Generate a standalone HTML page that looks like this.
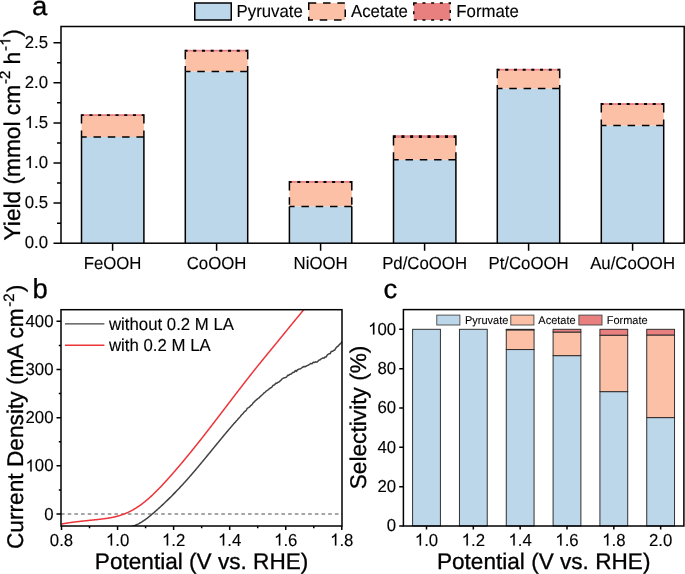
<!DOCTYPE html>
<html><head><meta charset="utf-8"><style>
html,body{margin:0;padding:0;background:#fff;}
svg{display:block;font-family:"Liberation Sans", sans-serif;will-change:transform;text-rendering:geometricPrecision;}
text{white-space:pre;}
</style></head><body>
<svg width="685" height="574" viewBox="0 0 685 574">
<rect width="685" height="574" fill="#fff"/>
<rect x="81.5" y="137.0" width="62.4" height="106.19999999999999" fill="#BDD7EA"/>
<rect x="81.5" y="116.1" width="62.4" height="20.900000000000006" fill="#FBC0A5"/>
<rect x="81.5" y="114.2" width="62.4" height="1.8999999999999915" fill="#E88080"/>
<path d="M81.5 243.2V137.0M143.9 243.2V137.0" stroke="#000" stroke-width="1.5" fill="none"/>
<path d="M81.5 116.1V137.0M143.9 116.1V137.0M143.9 137.0H81.5" stroke="#000" stroke-width="1.5" fill="none" stroke-dasharray="7.5 6.8"/>
<path d="M80.75 114.95H144.65M80.75 115.35H144.65" stroke="#000" stroke-width="1.5" fill="none" stroke-dasharray="3 5.7"/>
<rect x="185.3" y="71.5" width="62.4" height="171.7" fill="#BDD7EA"/>
<rect x="185.3" y="51.7" width="62.4" height="19.799999999999997" fill="#FBC0A5"/>
<rect x="185.3" y="49.8" width="62.4" height="1.9000000000000057" fill="#E88080"/>
<path d="M185.3 243.2V71.5M247.7 243.2V71.5" stroke="#000" stroke-width="1.5" fill="none"/>
<path d="M185.3 51.7V71.5M247.7 51.7V71.5M247.7 71.5H185.3" stroke="#000" stroke-width="1.5" fill="none" stroke-dasharray="7.5 6.8"/>
<path d="M184.55 50.55H248.45M184.55 50.95H248.45" stroke="#000" stroke-width="1.5" fill="none" stroke-dasharray="3 5.7"/>
<rect x="289.40000000000003" y="206.4" width="62.4" height="36.79999999999998" fill="#BDD7EA"/>
<rect x="289.40000000000003" y="182.9" width="62.4" height="23.5" fill="#FBC0A5"/>
<rect x="289.40000000000003" y="180.9" width="62.4" height="2.0" fill="#E88080"/>
<path d="M289.40000000000003 243.2V206.4M351.8 243.2V206.4" stroke="#000" stroke-width="1.5" fill="none"/>
<path d="M289.40000000000003 182.9V206.4M351.8 182.9V206.4M351.8 206.4H289.40000000000003" stroke="#000" stroke-width="1.5" fill="none" stroke-dasharray="7.5 6.8"/>
<path d="M288.65000000000003 181.65H352.55M288.65000000000003 182.15H352.55" stroke="#000" stroke-width="1.5" fill="none" stroke-dasharray="3 5.7"/>
<rect x="393.5" y="159.8" width="62.4" height="83.39999999999998" fill="#BDD7EA"/>
<rect x="393.5" y="137.9" width="62.4" height="21.900000000000006" fill="#FBC0A5"/>
<rect x="393.5" y="135.2" width="62.4" height="2.700000000000017" fill="#E88080"/>
<path d="M393.5 243.2V159.8M455.9 243.2V159.8" stroke="#000" stroke-width="1.5" fill="none"/>
<path d="M393.5 137.9V159.8M455.9 137.9V159.8M455.9 159.8H393.5" stroke="#000" stroke-width="1.5" fill="none" stroke-dasharray="7.5 6.8"/>
<path d="M392.75 135.95H456.65M392.75 137.15H456.65" stroke="#000" stroke-width="1.5" fill="none" stroke-dasharray="3 5.7"/>
<rect x="497.3" y="88.6" width="62.4" height="154.6" fill="#BDD7EA"/>
<rect x="497.3" y="70.7" width="62.4" height="17.89999999999999" fill="#FBC0A5"/>
<rect x="497.3" y="68.8" width="62.4" height="1.9000000000000057" fill="#E88080"/>
<path d="M497.3 243.2V88.6M559.7 243.2V88.6" stroke="#000" stroke-width="1.5" fill="none"/>
<path d="M497.3 70.7V88.6M559.7 70.7V88.6M559.7 88.6H497.3" stroke="#000" stroke-width="1.5" fill="none" stroke-dasharray="7.5 6.8"/>
<path d="M496.55 69.55H560.45M496.55 69.95H560.45" stroke="#000" stroke-width="1.5" fill="none" stroke-dasharray="3 5.7"/>
<rect x="601.3" y="125.6" width="62.4" height="117.6" fill="#BDD7EA"/>
<rect x="601.3" y="105.1" width="62.4" height="20.5" fill="#FBC0A5"/>
<rect x="601.3" y="103.1" width="62.4" height="2.0" fill="#E88080"/>
<path d="M601.3 243.2V125.6M663.7 243.2V125.6" stroke="#000" stroke-width="1.5" fill="none"/>
<path d="M601.3 105.1V125.6M663.7 105.1V125.6M663.7 125.6H601.3" stroke="#000" stroke-width="1.5" fill="none" stroke-dasharray="7.5 6.8"/>
<path d="M600.55 103.85H664.45M600.55 104.35H664.45" stroke="#000" stroke-width="1.5" fill="none" stroke-dasharray="3 5.7"/>
<rect x="61.0" y="26.5" width="623.2" height="216.7" fill="none" stroke="#000" stroke-width="1.5"/>
<path d="M61.0 243.20H53.5M61.0 223.15H57.0M61.0 203.10H53.5M61.0 183.05H57.0M61.0 163.00H53.5M61.0 142.95H57.0M61.0 122.90H53.5M61.0 102.85H57.0M61.0 82.80H53.5M61.0 62.75H57.0M61.0 42.70H53.5M112.6 243.2V250.7M216.6 243.2V250.7M320.6 243.2V250.7M424.6 243.2V250.7M528.6 243.2V250.7M632.6 243.2V250.7" stroke="#000" stroke-width="1.5" fill="none"/>
<g transform="translate(48.00 248.20) scale(1 1.035)"><text x="-23.35" y="0.00" font-size="16.8" stroke="#000" stroke-width="0.12">0.0</text></g>
<g transform="translate(48.00 208.10) scale(1 1.035)"><text x="-23.35" y="0.00" font-size="16.8" stroke="#000" stroke-width="0.12">0.5</text></g>
<g transform="translate(48.00 168.00) scale(1 1.035)"><text x="-23.35" y="0.00" font-size="16.8" stroke="#000" stroke-width="0.12"> .0</text><path transform="translate(-23.35 0.00) scale(0.00820 -0.00820)" d="M763 0L583 0L583 1102C540 1063 483 1023 413 984C343 945 280 915 223 895L223 1061C321 1105 407 1159 481 1221C555 1284 607 1346 638 1409L763 1409Z" stroke="#000" stroke-width="14.6"/></g>
<g transform="translate(48.00 127.90) scale(1 1.035)"><text x="-23.35" y="0.00" font-size="16.8" stroke="#000" stroke-width="0.12"> .5</text><path transform="translate(-23.35 0.00) scale(0.00820 -0.00820)" d="M763 0L583 0L583 1102C540 1063 483 1023 413 984C343 945 280 915 223 895L223 1061C321 1105 407 1159 481 1221C555 1284 607 1346 638 1409L763 1409Z" stroke="#000" stroke-width="14.6"/></g>
<g transform="translate(48.00 87.80) scale(1 1.035)"><text x="-23.35" y="0.00" font-size="16.8" stroke="#000" stroke-width="0.12">2.0</text></g>
<g transform="translate(48.00 47.70) scale(1 1.035)"><text x="-23.35" y="0.00" font-size="16.8" stroke="#000" stroke-width="0.12">2.5</text></g>
<g transform="translate(112.60 268.70) scale(1 1.035)"><text x="-28.94" y="0.00" font-size="16.8" stroke="#000" stroke-width="0.12">FeOOH</text></g>
<g transform="translate(216.60 268.70) scale(1 1.035)"><text x="-29.87" y="0.00" font-size="16.8" stroke="#000" stroke-width="0.12">CoOOH</text></g>
<g transform="translate(320.60 268.70) scale(1 1.035)"><text x="-27.07" y="0.00" font-size="16.8" stroke="#000" stroke-width="0.12">NiOOH</text></g>
<g transform="translate(424.60 268.70) scale(1 1.035)"><text x="-42.48" y="0.00" font-size="16.8" stroke="#000" stroke-width="0.12">Pd/CoOOH</text></g>
<g transform="translate(528.60 268.70) scale(1 1.035)"><text x="-40.14" y="0.00" font-size="16.8" stroke="#000" stroke-width="0.12">Pt/CoOOH</text></g>
<g transform="translate(632.60 268.70) scale(1 1.035)"><text x="-42.48" y="0.00" font-size="16.8" stroke="#000" stroke-width="0.12">Au/CoOOH</text></g>
<g transform="translate(19.80 134.75) rotate(-90)"><text x="-105.68" y="0.00" font-size="22.7" stroke="#000" stroke-width="0.3">Yield (mmol cm</text><text x="50.71" y="-9.50" font-size="15" stroke="#000" stroke-width="0.3">-2</text><text x="64.05" y="0.00" font-size="22.7" stroke="#000" stroke-width="0.3"> h</text><text x="83.88" y="-9.50" font-size="15" stroke="#000" stroke-width="0.3">- </text><path transform="translate(88.88 -9.50) scale(0.00732 -0.00732)" d="M763 0L583 0L583 1102C540 1063 483 1023 413 984C343 945 280 915 223 895L223 1061C321 1105 407 1159 481 1221C555 1284 607 1346 638 1409L763 1409Z" stroke="#000" stroke-width="41.0"/><text x="98.12" y="0.00" font-size="22.7" stroke="#000" stroke-width="0.3">)</text></g>
<g transform="translate(32.00 15.00) scale(1 0.965)"><text x="0.00" y="0.00" font-size="27.5" stroke="#000" stroke-width="0.3">a</text></g>
<rect x="194.75" y="3" width="36.5" height="17" fill="#BDD7EA" stroke="#000" stroke-width="1.5"/>
<g transform="translate(236.60 17.00) scale(1 1.035)"><text x="0.00" y="0.00" font-size="16.8" stroke="#000" stroke-width="0.12">Pyruvate</text></g>
<rect x="308.75" y="3" width="36.5" height="17" fill="#FBC0A5" stroke="#000" stroke-width="1.5" stroke-dasharray="7.5 6.8"/>
<g transform="translate(351.00 17.00) scale(1 1.035)"><text x="0.00" y="0.00" font-size="16.8" stroke="#000" stroke-width="0.12">Acetate</text></g>
<rect x="413.75" y="3" width="36.5" height="17" fill="#E88080" stroke="#000" stroke-width="1.5" stroke-dasharray="3 5.7"/>
<g transform="translate(456.30 17.00) scale(1 1.035)"><text x="0.00" y="0.00" font-size="16.8" stroke="#000" stroke-width="0.12">Formate</text></g>
<path d="M61.0 514H342.0" stroke="#888" stroke-width="1.3" stroke-dasharray="3.6 3.08" fill="none"/>
<clipPath id="cb"><rect x="61.0" y="309.7" width="281.0" height="216.3"/></clipPath>
<g clip-path="url(#cb)">
<polyline points="128.0,527.09 128.5,527.04 129.0,526.99 129.5,526.92 130.0,526.84 130.5,526.74 131.0,526.64 131.5,526.52 132.0,526.40 132.5,526.26 133.0,526.11 133.5,525.95 134.0,525.78 134.5,525.60 135.0,525.41 135.5,525.21 136.0,525.00 136.5,524.78 137.0,524.55 137.5,524.31 138.0,524.06 138.5,523.81 139.0,523.54 139.5,523.27 140.0,522.99 140.5,522.70 141.0,522.40 141.5,522.10 142.0,521.78 142.5,521.46 143.0,521.14 143.5,520.81 144.0,520.47 144.5,520.12 145.0,519.77 145.5,519.41 146.0,519.04 146.5,518.67 147.0,518.30 147.5,517.91 148.0,517.53 148.5,517.14 149.0,516.74 149.5,516.34 150.0,515.93 150.5,515.52 151.0,515.11 151.5,514.69 152.0,514.27 152.5,513.85 153.0,513.42 153.5,512.99 154.0,512.56 154.5,512.12 155.0,511.68 155.5,511.24 156.0,510.80 156.5,510.35 157.0,509.91 157.5,509.46 158.0,509.01 158.5,508.56 159.0,508.10 159.5,507.65 160.0,507.19 160.5,506.73 161.0,506.27 161.5,505.81 162.0,505.34 162.5,504.87 163.0,504.41 163.5,503.94 164.0,503.46 164.5,502.99 165.0,502.51 165.5,502.04 166.0,501.56 166.5,501.08 167.0,500.59 167.5,500.11 168.0,499.62 168.5,499.13 169.0,498.64 169.5,498.15 170.0,497.66 170.5,497.16 171.0,496.66 171.5,496.16 172.0,495.66 172.5,495.16 173.0,494.65 173.5,494.14 174.0,493.64 174.5,493.12 175.0,492.61 175.5,492.10 176.0,491.58 176.5,491.06 177.0,490.54 177.5,490.02 178.0,489.49 178.5,488.96 179.0,488.44 179.5,487.91 180.0,487.37 180.5,486.84 181.0,486.30 181.5,485.76 182.0,485.22 182.5,484.68 183.0,484.13 183.5,483.59 184.0,483.04 184.5,482.49 185.0,481.94 185.5,481.38 186.0,480.83 186.5,480.27 187.0,479.71 187.5,479.14 188.0,478.58 188.5,478.01 189.0,477.44 189.5,476.87 190.0,476.30 190.5,475.73 191.0,475.15 191.5,474.57 192.0,474.00 192.5,473.42 193.0,472.83 193.5,472.25 194.0,471.67 194.5,471.08 195.0,470.49 195.5,469.90 196.0,469.31 196.5,468.72 197.0,468.13 197.5,467.53 198.0,466.94 198.5,466.34 199.0,465.74 199.5,465.14 200.0,464.54 200.5,463.94 201.0,463.34 201.5,462.74 202.0,462.14 202.5,461.53 203.0,460.93 203.5,460.32 204.0,459.72 204.5,459.11 205.0,458.50 205.5,457.89 206.0,457.28 206.5,456.67 207.0,456.06 207.5,455.45 208.0,454.84 208.5,454.23 209.0,453.62 209.5,453.01 210.0,452.40 210.5,451.79 211.0,451.18 211.5,450.56 212.0,449.95 212.5,449.34 213.0,448.73 213.5,448.11 214.0,447.50 214.5,446.89 215.0,446.28 215.5,445.67 216.0,445.06 216.5,444.45 217.0,443.84 217.5,443.22 218.0,442.62 218.5,442.01 219.0,441.40 219.5,440.79 220.0,440.18 220.5,439.57 221.0,438.97 221.5,438.36 222.0,437.76 222.5,437.15 223.0,436.55 223.5,435.94 224.0,435.34 224.5,434.74 225.0,434.14 225.5,433.54 226.0,432.94 226.5,432.35 227.0,431.75 227.5,431.16 228.0,430.56 228.5,429.97 229.0,429.38 229.5,428.79 230.0,428.20 230.5,427.62 231.0,427.03 231.5,426.45 232.0,425.86 232.5,425.28 233.0,424.70 233.5,424.13 234.0,423.55 234.5,422.98 235.0,422.63 235.5,422.04 236.0,421.30 236.5,420.62 237.0,420.20 237.5,419.68 238.0,419.05 238.5,418.56 239.0,418.05 239.5,417.46 240.0,416.87 240.5,416.25 241.0,415.58 241.5,414.99 242.0,414.53 242.5,414.10 243.0,413.52 243.5,412.84 244.0,412.23 244.5,411.76 245.0,411.33 245.5,410.96 246.0,410.58 246.5,409.77 247.0,408.70 247.5,408.10 248.0,407.90 248.5,407.62 249.0,407.29 249.5,406.99 250.0,406.52 250.5,405.77 251.0,405.33 251.5,405.14 252.0,404.64 252.5,403.90 253.0,403.08 253.5,402.45 254.0,402.11 254.5,401.66 255.0,401.04 255.5,400.57 256.0,400.17 256.5,399.71 257.0,399.34 257.5,398.98 258.0,398.51 258.5,398.08 259.0,397.79 259.5,397.41 260.0,396.82 260.5,396.26 261.0,395.85 261.5,395.43 262.0,394.98 262.5,394.50 263.0,394.12 263.5,393.57 264.0,392.97 264.5,392.60 265.0,392.31 265.5,391.85 266.0,391.25 266.5,390.81 267.0,390.54 267.5,390.23 268.0,389.92 268.5,389.45 269.0,388.91 269.5,388.72 270.0,388.31 270.5,387.70 271.0,387.64 271.5,387.45 272.0,386.95 272.5,386.09 273.0,385.38 273.5,385.15 274.0,385.10 274.5,384.92 275.0,384.25 275.5,383.39 276.0,383.19 276.5,383.41 277.0,383.18 277.5,382.58 278.0,382.26 278.5,382.15 279.0,381.97 279.5,381.64 280.0,381.10 280.5,380.54 281.0,380.17 281.5,379.65 282.0,378.90 282.5,378.63 283.0,378.42 283.5,378.04 284.0,377.88 284.5,377.78 285.0,377.67 285.5,377.47 286.0,377.35 286.5,377.11 287.0,376.40 287.5,375.54 288.0,375.30 288.5,375.50 289.0,375.12 289.5,374.55 290.0,374.32 290.5,374.22 291.0,374.07 291.5,373.67 292.0,373.16 292.5,372.77 293.0,372.51 293.5,372.30 294.0,372.37 294.5,372.01 295.0,370.93 295.5,370.47 296.0,371.12 296.5,371.35 297.0,370.45 297.5,369.80 298.0,369.68 298.5,369.37 299.0,369.09 299.5,369.03 300.0,368.96 300.5,368.70 301.0,368.41 301.5,368.00 302.0,367.56 302.5,367.25 303.0,367.02 303.5,366.79 304.0,366.46 304.5,366.50 305.0,366.77 305.5,366.58 306.0,366.24 306.5,365.97 307.0,365.62 307.5,365.43 308.0,365.34 308.5,365.01 309.0,364.65 309.5,364.49 310.0,364.06 310.5,363.55 311.0,363.42 311.5,363.66 312.0,363.71 312.5,363.17 313.0,362.56 313.5,362.19 314.0,362.39 314.5,362.56 315.0,362.19 315.5,361.84 316.0,361.87 316.5,361.99 317.0,362.05 317.5,361.87 318.0,361.17 318.5,360.46 319.0,360.15 319.5,360.00 320.0,359.80 320.5,359.50 321.0,359.02 321.5,358.61 322.0,358.49 322.5,358.13 323.0,357.86 323.5,358.09 324.0,358.16 324.5,357.69 325.0,357.08 325.5,356.97 326.0,357.17 326.5,356.51 327.0,355.37 327.5,354.77 328.0,354.42 328.5,354.01 329.0,353.87 329.5,353.87 330.0,353.77 330.5,352.98 331.0,351.86 331.5,351.40 332.0,351.32 332.5,351.38 333.0,351.12 333.5,350.53 334.0,350.16 334.5,350.25 335.0,349.79 335.5,348.71 336.0,347.92 336.5,347.33 337.0,346.79 337.5,346.49 338.0,346.29 338.5,345.61 339.0,345.03 339.5,344.62 340.0,344.02 340.5,343.44 341.0,342.95 341.5,342.41 342.0,341.84 342.5,341.50 343.0,341.22" fill="none" stroke="#424242" stroke-width="1.5" stroke-linejoin="round"/>
<polyline points="61.5,524.04 62.0,523.95 62.5,523.85 63.0,523.76 63.5,523.67 64.0,523.58 64.5,523.49 65.0,523.40 65.5,523.32 66.0,523.23 66.5,523.15 67.0,523.07 67.5,522.99 68.0,522.91 68.5,522.84 69.0,522.76 69.5,522.69 70.0,522.62 70.5,522.54 71.0,522.47 71.5,522.40 72.0,522.33 72.5,522.27 73.0,522.20 73.5,522.14 74.0,522.07 74.5,522.01 75.0,521.95 75.5,521.88 76.0,521.82 76.5,521.76 77.0,521.70 77.5,521.65 78.0,521.59 78.5,521.53 79.0,521.47 79.5,521.42 80.0,521.36 80.5,521.31 81.0,521.25 81.5,521.20 82.0,521.15 82.5,521.09 83.0,521.04 83.5,520.99 84.0,520.94 84.5,520.88 85.0,520.83 85.5,520.78 86.0,520.73 86.5,520.68 87.0,520.63 87.5,520.58 88.0,520.53 88.5,520.48 89.0,520.42 89.5,520.37 90.0,520.32 90.5,520.27 91.0,520.22 91.5,520.17 92.0,520.12 92.5,520.07 93.0,520.01 93.5,519.96 94.0,519.91 94.5,519.86 95.0,519.80 95.5,519.75 96.0,519.70 96.5,519.64 97.0,519.59 97.5,519.53 98.0,519.47 98.5,519.42 99.0,519.36 99.5,519.30 100.0,519.24 100.5,519.18 101.0,519.12 101.5,519.06 102.0,519.00 102.5,518.93 103.0,518.87 103.5,518.80 104.0,518.74 104.5,518.67 105.0,518.60 105.5,518.53 106.0,518.46 106.5,518.39 107.0,518.32 107.5,518.24 108.0,518.16 108.5,518.08 109.0,518.00 109.5,517.92 110.0,517.83 110.5,517.74 111.0,517.65 111.5,517.56 112.0,517.46 112.5,517.37 113.0,517.26 113.5,517.16 114.0,517.05 114.5,516.94 115.0,516.83 115.5,516.71 116.0,516.59 116.5,516.46 117.0,516.33 117.5,516.20 118.0,516.06 118.5,515.92 119.0,515.78 119.5,515.63 120.0,515.47 120.5,515.32 121.0,515.15 121.5,514.98 122.0,514.81 122.5,514.64 123.0,514.45 123.5,514.27 124.0,514.08 124.5,513.88 125.0,513.68 125.5,513.47 126.0,513.26 126.5,513.05 127.0,512.83 127.5,512.61 128.0,512.38 128.5,512.14 129.0,511.90 129.5,511.66 130.0,511.41 130.5,511.16 131.0,510.90 131.5,510.64 132.0,510.37 132.5,510.09 133.0,509.81 133.5,509.53 134.0,509.24 134.5,508.95 135.0,508.65 135.5,508.35 136.0,508.04 136.5,507.72 137.0,507.40 137.5,507.08 138.0,506.75 138.5,506.41 139.0,506.07 139.5,505.73 140.0,505.38 140.5,505.02 141.0,504.66 141.5,504.29 142.0,503.92 142.5,503.54 143.0,503.16 143.5,502.77 144.0,502.38 144.5,501.98 145.0,501.58 145.5,501.17 146.0,500.76 146.5,500.34 147.0,499.92 147.5,499.49 148.0,499.06 148.5,498.62 149.0,498.18 149.5,497.74 150.0,497.29 150.5,496.83 151.0,496.38 151.5,495.91 152.0,495.45 152.5,494.98 153.0,494.50 153.5,494.03 154.0,493.55 154.5,493.06 155.0,492.57 155.5,492.08 156.0,491.59 156.5,491.09 157.0,490.59 157.5,490.08 158.0,489.57 158.5,489.06 159.0,488.55 159.5,488.03 160.0,487.51 160.5,486.99 161.0,486.46 161.5,485.93 162.0,485.40 162.5,484.87 163.0,484.33 163.5,483.79 164.0,483.25 164.5,482.71 165.0,482.16 165.5,481.62 166.0,481.07 166.5,480.52 167.0,479.96 167.5,479.41 168.0,478.85 168.5,478.29 169.0,477.73 169.5,477.17 170.0,476.61 170.5,476.04 171.0,475.48 171.5,474.91 172.0,474.34 172.5,473.77 173.0,473.20 173.5,472.63 174.0,472.05 174.5,471.48 175.0,470.90 175.5,470.32 176.0,469.74 176.5,469.16 177.0,468.58 177.5,468.00 178.0,467.41 178.5,466.82 179.0,466.24 179.5,465.65 180.0,465.06 180.5,464.47 181.0,463.88 181.5,463.28 182.0,462.69 182.5,462.09 183.0,461.49 183.5,460.90 184.0,460.30 184.5,459.70 185.0,459.09 185.5,458.49 186.0,457.89 186.5,457.28 187.0,456.68 187.5,456.07 188.0,455.46 188.5,454.85 189.0,454.24 189.5,453.63 190.0,453.01 190.5,452.40 191.0,451.79 191.5,451.17 192.0,450.55 192.5,449.93 193.0,449.31 193.5,448.69 194.0,448.07 194.5,447.45 195.0,446.83 195.5,446.20 196.0,445.58 196.5,444.95 197.0,444.32 197.5,443.70 198.0,443.07 198.5,442.44 199.0,441.81 199.5,441.17 200.0,440.54 200.5,439.91 201.0,439.27 201.5,438.64 202.0,438.00 202.5,437.37 203.0,436.73 203.5,436.09 204.0,435.45 204.5,434.81 205.0,434.17 205.5,433.53 206.0,432.89 206.5,432.24 207.0,431.60 207.5,430.96 208.0,430.31 208.5,429.67 209.0,429.02 209.5,428.37 210.0,427.73 210.5,427.08 211.0,426.43 211.5,425.78 212.0,425.13 212.5,424.48 213.0,423.83 213.5,423.18 214.0,422.53 214.5,421.88 215.0,421.23 215.5,420.58 216.0,419.92 216.5,419.27 217.0,418.62 217.5,417.97 218.0,417.31 218.5,416.66 219.0,416.00 219.5,415.35 220.0,414.70 220.5,414.04 221.0,413.39 221.5,412.73 222.0,412.08 222.5,411.42 223.0,410.77 223.5,410.11 224.0,409.45 224.5,408.80 225.0,408.14 225.5,407.49 226.0,406.83 226.5,406.18 227.0,405.52 227.5,404.86 228.0,404.21 228.5,403.55 229.0,402.90 229.5,402.24 230.0,401.59 230.5,400.93 231.0,400.28 231.5,399.62 232.0,398.97 232.5,398.31 233.0,397.66 233.5,397.01 234.0,396.35 234.5,395.70 235.0,395.05 235.5,394.39 236.0,393.74 236.5,393.09 237.0,392.44 237.5,391.79 238.0,391.14 238.5,390.49 239.0,389.84 239.5,389.19 240.0,388.54 240.5,387.89 241.0,387.24 241.5,386.60 242.0,385.95 242.5,385.30 243.0,384.66 243.5,384.01 244.0,383.37 244.5,382.72 245.0,382.08 245.5,381.44 246.0,380.80 246.5,380.15 247.0,379.51 247.5,378.87 248.0,378.23 248.5,377.60 249.0,376.96 249.5,376.32 250.0,375.69 250.5,375.05 251.0,374.42 251.5,373.78 252.0,373.15 252.5,372.52 253.0,371.89 253.5,371.26 254.0,370.63 254.5,370.00 255.0,369.38 255.5,368.75 256.0,368.13 256.5,367.50 257.0,366.88 257.5,366.26 258.0,365.64 258.5,365.02 259.0,364.40 259.5,363.78 260.0,363.16 260.5,362.54 261.0,361.93 261.5,361.31 262.0,360.70 262.5,360.08 263.0,359.47 263.5,358.85 264.0,358.24 264.5,357.63 265.0,357.02 265.5,356.41 266.0,355.79 266.5,355.18 267.0,354.57 267.5,353.96 268.0,353.35 268.5,352.74 269.0,352.13 269.5,351.53 270.0,350.92 270.5,350.31 271.0,349.70 271.5,349.09 272.0,348.48 272.5,347.87 273.0,347.26 273.5,346.65 274.0,346.05 274.5,345.44 275.0,344.83 275.5,344.22 276.0,343.61 276.5,343.00 277.0,342.39 277.5,341.78 278.0,341.17 278.5,340.56 279.0,339.94 279.5,339.33 280.0,338.72 280.5,338.11 281.0,337.50 281.5,336.88 282.0,336.27 282.5,335.66 283.0,335.04 283.5,334.43 284.0,333.82 284.5,333.20 285.0,332.59 285.5,331.97 286.0,331.36 286.5,330.75 287.0,330.13 287.5,329.52 288.0,328.90 288.5,328.29 289.0,327.68 289.5,327.06 290.0,326.45 290.5,325.84 291.0,325.22 291.5,324.61 292.0,324.00 292.5,323.39 293.0,322.78 293.5,322.16 294.0,321.55 294.5,320.94 295.0,320.33 295.5,319.72 296.0,319.11 296.5,318.50 297.0,317.89 297.5,317.29 298.0,316.68 298.5,316.07 299.0,315.46 299.5,314.86 300.0,314.25 300.5,313.65 301.0,313.04 301.5,312.44 302.0,311.84 302.5,311.24 303.0,310.63 303.5,310.03 304.0,309.43 304.5,308.84 305.0,308.24 305.5,307.64 306.0,307.04 306.5,306.45 307.0,305.85 307.5,305.26 308.0,304.67 308.5,304.07 309.0,303.48 309.5,302.89 310.0,302.31" fill="none" stroke="#EC3439" stroke-width="1.5" stroke-linejoin="round"/>
</g>
<rect x="61.0" y="309.7" width="281.0" height="216.3" fill="none" stroke="#000" stroke-width="1.5"/>
<path d="M61.0 514.00H56.5M61.0 489.91H58.8M61.0 465.82H56.5M61.0 441.74H58.8M61.0 417.65H56.5M61.0 393.56H58.8M61.0 369.48H56.5M61.0 345.39H58.8M61.0 321.30H56.5M61.50 526.0V530.0M89.53 526.0V528.2M117.56 526.0V530.0M145.59 526.0V528.2M173.62 526.0V530.0M201.65 526.0V528.2M229.68 526.0V530.0M257.71 526.0V528.2M285.74 526.0V530.0M313.77 526.0V528.2M341.80 526.0V530.0" stroke="#000" stroke-width="1.5" fill="none"/>
<g transform="translate(53.50 519.60) scale(1 1.035)"><text x="-9.34" y="0.00" font-size="16.8" stroke="#000" stroke-width="0.12">0</text></g>
<g transform="translate(53.50 471.43) scale(1 1.035)"><text x="-28.03" y="0.00" font-size="16.8" stroke="#000" stroke-width="0.12"> 00</text><path transform="translate(-28.03 0.00) scale(0.00820 -0.00820)" d="M763 0L583 0L583 1102C540 1063 483 1023 413 984C343 945 280 915 223 895L223 1061C321 1105 407 1159 481 1221C555 1284 607 1346 638 1409L763 1409Z" stroke="#000" stroke-width="14.6"/></g>
<g transform="translate(53.50 423.25) scale(1 1.035)"><text x="-28.03" y="0.00" font-size="16.8" stroke="#000" stroke-width="0.12">200</text></g>
<g transform="translate(53.50 375.08) scale(1 1.035)"><text x="-28.03" y="0.00" font-size="16.8" stroke="#000" stroke-width="0.12">300</text></g>
<g transform="translate(53.50 326.90) scale(1 1.035)"><text x="-28.03" y="0.00" font-size="16.8" stroke="#000" stroke-width="0.12">400</text></g>
<g transform="translate(61.50 545.50) scale(1 1.035)"><text x="-11.68" y="0.00" font-size="16.8" stroke="#000" stroke-width="0.12">0.8</text></g>
<g transform="translate(117.56 545.50) scale(1 1.035)"><text x="-11.68" y="0.00" font-size="16.8" stroke="#000" stroke-width="0.12"> .0</text><path transform="translate(-11.68 0.00) scale(0.00820 -0.00820)" d="M763 0L583 0L583 1102C540 1063 483 1023 413 984C343 945 280 915 223 895L223 1061C321 1105 407 1159 481 1221C555 1284 607 1346 638 1409L763 1409Z" stroke="#000" stroke-width="14.6"/></g>
<g transform="translate(173.62 545.50) scale(1 1.035)"><text x="-11.68" y="0.00" font-size="16.8" stroke="#000" stroke-width="0.12"> .2</text><path transform="translate(-11.68 0.00) scale(0.00820 -0.00820)" d="M763 0L583 0L583 1102C540 1063 483 1023 413 984C343 945 280 915 223 895L223 1061C321 1105 407 1159 481 1221C555 1284 607 1346 638 1409L763 1409Z" stroke="#000" stroke-width="14.6"/></g>
<g transform="translate(229.68 545.50) scale(1 1.035)"><text x="-11.68" y="0.00" font-size="16.8" stroke="#000" stroke-width="0.12"> .4</text><path transform="translate(-11.68 0.00) scale(0.00820 -0.00820)" d="M763 0L583 0L583 1102C540 1063 483 1023 413 984C343 945 280 915 223 895L223 1061C321 1105 407 1159 481 1221C555 1284 607 1346 638 1409L763 1409Z" stroke="#000" stroke-width="14.6"/></g>
<g transform="translate(285.74 545.50) scale(1 1.035)"><text x="-11.68" y="0.00" font-size="16.8" stroke="#000" stroke-width="0.12"> .6</text><path transform="translate(-11.68 0.00) scale(0.00820 -0.00820)" d="M763 0L583 0L583 1102C540 1063 483 1023 413 984C343 945 280 915 223 895L223 1061C321 1105 407 1159 481 1221C555 1284 607 1346 638 1409L763 1409Z" stroke="#000" stroke-width="14.6"/></g>
<g transform="translate(341.80 545.50) scale(1 1.035)"><text x="-11.68" y="0.00" font-size="16.8" stroke="#000" stroke-width="0.12"> .8</text><path transform="translate(-11.68 0.00) scale(0.00820 -0.00820)" d="M763 0L583 0L583 1102C540 1063 483 1023 413 984C343 945 280 915 223 895L223 1061C321 1105 407 1159 481 1221C555 1284 607 1346 638 1409L763 1409Z" stroke="#000" stroke-width="14.6"/></g>
<g transform="translate(201.60 568.90) rotate(0)"><text x="-106.75" y="0.00" font-size="22.599999999999998" stroke="#000" stroke-width="0.3">Potential (V vs. RHE)</text></g>
<g transform="translate(23.00 416.90) rotate(-90)"><text x="-132.14" y="0.00" font-size="22.7" stroke="#000" stroke-width="0.3">Current Density (mA cm</text><text x="110.04" y="-9.50" font-size="15" stroke="#000" stroke-width="0.3">-2</text><text x="124.58" y="0.00" font-size="22.7" stroke="#000" stroke-width="0.3">)</text></g>
<g transform="translate(32.50 298.00) scale(1 1.0)"><text x="0.00" y="0.00" font-size="27.5" stroke="#000" stroke-width="0.3">b</text></g>
<path d="M65 323.9H104.4" stroke="#424242" stroke-width="1.4"/>
<path d="M65 345.2H104.4" stroke="#EC3439" stroke-width="1.4"/>
<g transform="translate(109.00 330.00) scale(1 1.035)"><text x="0.00" y="0.00" font-size="16.8" stroke="#000" stroke-width="0.12">without 0.2 M LA</text></g>
<g transform="translate(109.00 351.30) scale(1 1.035)"><text x="0.00" y="0.00" font-size="16.8" stroke="#000" stroke-width="0.12">with 0.2 M LA</text></g>
<rect x="412.60" y="329.30" width="27.8" height="196.70" fill="#BDD7EA" stroke="#282828" stroke-width="0.95"/>
<rect x="459.43" y="329.30" width="27.8" height="196.70" fill="#BDD7EA" stroke="#282828" stroke-width="0.95"/>
<rect x="506.26" y="349.56" width="27.8" height="176.44" fill="#BDD7EA" stroke="#282828" stroke-width="0.95"/>
<rect x="506.26" y="329.89" width="27.8" height="19.67" fill="#FBC0A5" stroke="#282828" stroke-width="0.95"/>
<rect x="506.26" y="329.30" width="27.8" height="0.59" fill="#E88080" stroke="#282828" stroke-width="0.95"/>
<rect x="553.09" y="355.66" width="27.8" height="170.34" fill="#BDD7EA" stroke="#282828" stroke-width="0.95"/>
<rect x="553.09" y="332.05" width="27.8" height="23.60" fill="#FBC0A5" stroke="#282828" stroke-width="0.95"/>
<rect x="553.09" y="329.30" width="27.8" height="2.75" fill="#E88080" stroke="#282828" stroke-width="0.95"/>
<rect x="599.92" y="391.65" width="27.8" height="134.35" fill="#BDD7EA" stroke="#282828" stroke-width="0.95"/>
<rect x="599.92" y="335.20" width="27.8" height="56.45" fill="#FBC0A5" stroke="#282828" stroke-width="0.95"/>
<rect x="599.92" y="329.30" width="27.8" height="5.90" fill="#E88080" stroke="#282828" stroke-width="0.95"/>
<rect x="646.75" y="417.62" width="27.8" height="108.38" fill="#BDD7EA" stroke="#282828" stroke-width="0.95"/>
<rect x="646.75" y="335.00" width="27.8" height="82.61" fill="#FBC0A5" stroke="#282828" stroke-width="0.95"/>
<rect x="646.75" y="329.30" width="27.8" height="5.70" fill="#E88080" stroke="#282828" stroke-width="0.95"/>
<rect x="403.4" y="309.6" width="280.5" height="216.39999999999998" fill="none" stroke="#000" stroke-width="1.5"/>
<path d="M403.4 526.00H399.2M403.4 486.66H399.2M403.4 447.32H399.2M403.4 407.98H399.2M403.4 368.64H399.2M403.4 329.30H399.2M426.50 526.0V529.5M473.33 526.0V529.5M520.16 526.0V529.5M566.99 526.0V529.5M613.82 526.0V529.5M660.65 526.0V529.5" stroke="#000" stroke-width="1.5" fill="none"/>
<g transform="translate(396.20 531.20) scale(1 1.035)"><text x="-9.34" y="0.00" font-size="16.8" stroke="#000" stroke-width="0.12">0</text></g>
<g transform="translate(396.20 491.86) scale(1 1.035)"><text x="-18.69" y="0.00" font-size="16.8" stroke="#000" stroke-width="0.12">20</text></g>
<g transform="translate(396.20 452.52) scale(1 1.035)"><text x="-18.69" y="0.00" font-size="16.8" stroke="#000" stroke-width="0.12">40</text></g>
<g transform="translate(396.20 413.18) scale(1 1.035)"><text x="-18.69" y="0.00" font-size="16.8" stroke="#000" stroke-width="0.12">60</text></g>
<g transform="translate(396.20 373.84) scale(1 1.035)"><text x="-18.69" y="0.00" font-size="16.8" stroke="#000" stroke-width="0.12">80</text></g>
<g transform="translate(396.20 334.50) scale(1 1.035)"><text x="-28.03" y="0.00" font-size="16.8" stroke="#000" stroke-width="0.12"> 00</text><path transform="translate(-28.03 0.00) scale(0.00820 -0.00820)" d="M763 0L583 0L583 1102C540 1063 483 1023 413 984C343 945 280 915 223 895L223 1061C321 1105 407 1159 481 1221C555 1284 607 1346 638 1409L763 1409Z" stroke="#000" stroke-width="14.6"/></g>
<g transform="translate(426.50 545.50) scale(1 1.035)"><text x="-11.68" y="0.00" font-size="16.8" stroke="#000" stroke-width="0.12"> .0</text><path transform="translate(-11.68 0.00) scale(0.00820 -0.00820)" d="M763 0L583 0L583 1102C540 1063 483 1023 413 984C343 945 280 915 223 895L223 1061C321 1105 407 1159 481 1221C555 1284 607 1346 638 1409L763 1409Z" stroke="#000" stroke-width="14.6"/></g>
<g transform="translate(473.33 545.50) scale(1 1.035)"><text x="-11.68" y="0.00" font-size="16.8" stroke="#000" stroke-width="0.12"> .2</text><path transform="translate(-11.68 0.00) scale(0.00820 -0.00820)" d="M763 0L583 0L583 1102C540 1063 483 1023 413 984C343 945 280 915 223 895L223 1061C321 1105 407 1159 481 1221C555 1284 607 1346 638 1409L763 1409Z" stroke="#000" stroke-width="14.6"/></g>
<g transform="translate(520.16 545.50) scale(1 1.035)"><text x="-11.68" y="0.00" font-size="16.8" stroke="#000" stroke-width="0.12"> .4</text><path transform="translate(-11.68 0.00) scale(0.00820 -0.00820)" d="M763 0L583 0L583 1102C540 1063 483 1023 413 984C343 945 280 915 223 895L223 1061C321 1105 407 1159 481 1221C555 1284 607 1346 638 1409L763 1409Z" stroke="#000" stroke-width="14.6"/></g>
<g transform="translate(566.99 545.50) scale(1 1.035)"><text x="-11.68" y="0.00" font-size="16.8" stroke="#000" stroke-width="0.12"> .6</text><path transform="translate(-11.68 0.00) scale(0.00820 -0.00820)" d="M763 0L583 0L583 1102C540 1063 483 1023 413 984C343 945 280 915 223 895L223 1061C321 1105 407 1159 481 1221C555 1284 607 1346 638 1409L763 1409Z" stroke="#000" stroke-width="14.6"/></g>
<g transform="translate(613.82 545.50) scale(1 1.035)"><text x="-11.68" y="0.00" font-size="16.8" stroke="#000" stroke-width="0.12"> .8</text><path transform="translate(-11.68 0.00) scale(0.00820 -0.00820)" d="M763 0L583 0L583 1102C540 1063 483 1023 413 984C343 945 280 915 223 895L223 1061C321 1105 407 1159 481 1221C555 1284 607 1346 638 1409L763 1409Z" stroke="#000" stroke-width="14.6"/></g>
<g transform="translate(660.65 545.50) scale(1 1.035)"><text x="-11.68" y="0.00" font-size="16.8" stroke="#000" stroke-width="0.12">2.0</text></g>
<g transform="translate(543.70 568.90) rotate(0)"><text x="-106.75" y="0.00" font-size="22.599999999999998" stroke="#000" stroke-width="0.3">Potential (V vs. RHE)</text></g>
<g transform="translate(365.50 417.40) rotate(-90)"><text x="-71.90" y="0.00" font-size="22.7" stroke="#000" stroke-width="0.3">Selectivity (%)</text></g>
<g transform="translate(383.50 298.30) scale(1 0.965)"><text x="0.00" y="0.00" font-size="27.5" stroke="#000" stroke-width="0.3">c</text></g>
<rect x="436.8" y="315.1" width="23.1" height="9.9" fill="#BDD7EA" stroke="#444" stroke-width="0.9"/>
<g transform="translate(465.00 323.70) scale(1 1.035)"><text x="0.00" y="0.00" font-size="11" stroke="#000" stroke-width="0.08">Pyruvate</text></g>
<rect x="510.8" y="315.1" width="23.1" height="9.9" fill="#FBC0A5" stroke="#444" stroke-width="0.9"/>
<g transform="translate(538.30 323.70) scale(1 1.035)"><text x="0.00" y="0.00" font-size="11" stroke="#000" stroke-width="0.08">Acetate</text></g>
<rect x="578.9" y="315.1" width="23.1" height="9.9" fill="#E88080" stroke="#444" stroke-width="0.9"/>
<g transform="translate(606.70 323.70) scale(1 1.035)"><text x="0.00" y="0.00" font-size="11" stroke="#000" stroke-width="0.08">Formate</text></g>
</svg>
</body></html>
